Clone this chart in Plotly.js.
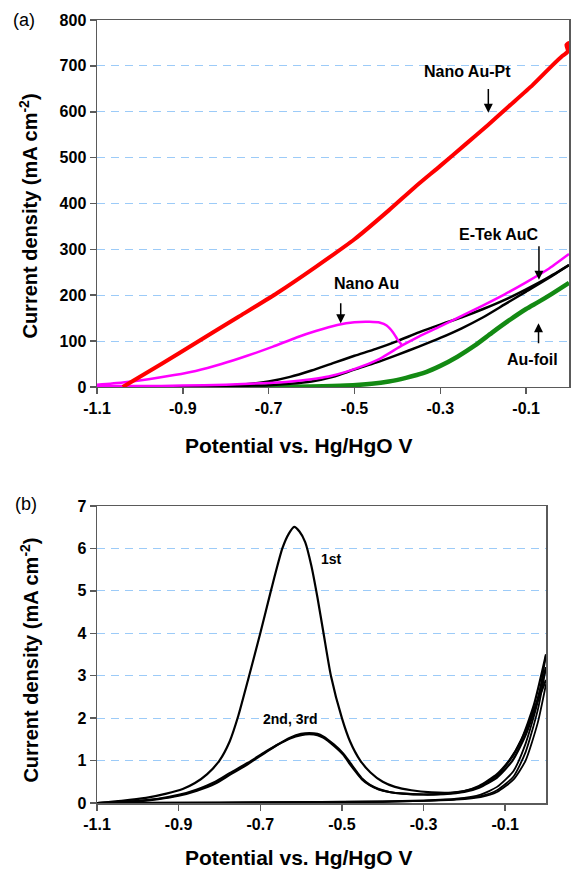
<!DOCTYPE html>
<html><head><meta charset="utf-8">
<script src="https://cdn.plot.ly/plotly-3.0.1.min.js"></script>
<style>html,body{margin:0;padding:0;background:#fff}</style>
</head><body><div id="chart" style="width:571px;height:869px"></div>
<script>
// ---------- Panel (a) ----------
const auPtX = [-1.04, -0.95, -0.87, -0.77, -0.68, -0.59, -0.5, -0.42, -0.36, -0.3, -0.24, -0.19, -0.14, -0.085, -0.04, -0.015, -0.004, 0.0, -0.006, 0.0];
const auPtY = [0, 50, 96, 153, 205, 262, 322, 385, 435, 482, 530, 570, 612, 658, 700, 722, 730, 750, 746, 728];

const nanoAuFwdX = [-1.1, -1.04, -0.98, -0.92, -0.87, -0.81, -0.75, -0.69, -0.635, -0.59, -0.54, -0.5, -0.465, -0.44, -0.425, -0.41, -0.4, -0.39];
const nanoAuFwdY = [5, 10, 17, 26, 35, 50, 68, 88, 108, 122, 135, 141, 142, 140, 134, 119, 104, 92];
const nanoAuRevX = [-1.1, -1.0, -0.9, -0.8, -0.72, -0.66, -0.6, -0.56, -0.52, -0.48, -0.44, -0.39, -0.35, -0.3, -0.25, -0.2, -0.15, -0.1, -0.05, 0];
const nanoAuRevY = [2, 2, 3, 5, 8, 11, 17, 23, 33, 46, 62, 90, 110, 132, 155, 178, 202, 228, 256, 290];

const etekX = [-1.0, -0.9, -0.8, -0.74, -0.7, -0.65, -0.6, -0.55, -0.5, -0.45, -0.4, -0.35, -0.3, -0.25, -0.2, -0.15, -0.1, -0.05, 0];
const etekUpY = [-2, 0, 3, 7, 12, 22, 36, 52, 68, 83, 100, 119, 136, 152, 170, 190, 213, 238, 266];
const etekLoY = [-3, -1, 1, 3, 4, 7, 12, 22, 38, 53, 70, 88, 107, 128, 152, 180, 208, 236, 266];

const foilX = [-0.8, -0.7, -0.6, -0.52, -0.46, -0.42, -0.38, -0.34, -0.3, -0.26, -0.22, -0.18, -0.14, -0.1, -0.07, -0.04, 0];
const foilY = [0, 0, 1, 3, 7, 12, 20, 30, 46, 66, 90, 118, 145, 170, 186, 203, 227];

// ---------- Panel (b) ----------
const c1FwdX = [-1.1, -1.04, -0.98, -0.93, -0.89, -0.86, -0.83, -0.8, -0.775, -0.754, -0.73, -0.7, -0.674, -0.646, -0.63, -0.617, -0.604, -0.59, -0.575, -0.56, -0.545, -0.527, -0.5, -0.48, -0.455, -0.43, -0.4, -0.37, -0.33, -0.28, -0.24, -0.2, -0.16, -0.12, -0.09, -0.06, -0.03, 0];
const c1FwdY = [0, 0.05, 0.12, 0.22, 0.33, 0.47, 0.68, 1.0, 1.45, 2.05, 2.9, 4.0, 5.0, 6.0, 6.35, 6.51, 6.4, 6.15, 5.6, 4.85, 4.0, 3.0, 2.0, 1.45, 1.0, 0.72, 0.5, 0.38, 0.3, 0.25, 0.24, 0.28, 0.4, 0.65, 1.0, 1.5, 2.3, 3.5];
const c2FwdX = [-1.1, -1.0, -0.95, -0.9, -0.855, -0.81, -0.774, -0.73, -0.692, -0.66, -0.627, -0.6, -0.58, -0.56, -0.546, -0.52, -0.497, -0.48, -0.464, -0.45, -0.432, -0.41, -0.384, -0.35, -0.3, -0.25, -0.2, -0.164, -0.12, -0.082, -0.05, -0.025, 0];
const c2FwdY = [0, 0.05, 0.1, 0.19, 0.32, 0.5, 0.71, 0.95, 1.18, 1.36, 1.52, 1.6, 1.62, 1.6, 1.54, 1.35, 1.14, 0.91, 0.71, 0.55, 0.42, 0.32, 0.26, 0.22, 0.2, 0.21, 0.26, 0.36, 0.6, 1.0, 1.6, 2.3, 3.2];
const c3FwdY = [0, 0.04, 0.09, 0.17, 0.29, 0.46, 0.67, 0.92, 1.16, 1.36, 1.54, 1.63, 1.65, 1.63, 1.57, 1.38, 1.17, 0.95, 0.74, 0.57, 0.43, 0.33, 0.26, 0.22, 0.2, 0.22, 0.28, 0.4, 0.68, 1.1, 1.7, 2.3, 2.9];
const revX = [0, -0.02, -0.05, -0.08, -0.12, -0.16, -0.22, -0.3, -0.4, -0.6, -0.8, -1.1];
const rev1Y = [3.5, 2.4, 1.4, 0.75, 0.38, 0.2, 0.1, 0.06, 0.04, 0.02, 0.01, 0];
const rev2Y = [3.2, 2.2, 1.2, 0.62, 0.3, 0.16, 0.09, 0.05, 0.03, 0.02, 0.01, 0];
const rev3Y = [2.8, 1.9, 1.0, 0.55, 0.26, 0.14, 0.08, 0.05, 0.03, 0.02, 0.01, 0];

// ---------- Axes ticks ----------
const xTickVals = [-1.1, -0.9, -0.7, -0.5, -0.3, -0.1];
const xTickText = ['-1.1', '-0.9', '-0.7', '-0.5', '-0.3', '-0.1'];
const yTopVals = [0, 100, 200, 300, 400, 500, 600, 700, 800];
const yBotVals = [0, 1, 2, 3, 4, 5, 6, 7];

const FONT = 'Liberation Sans, Arial, Helvetica, sans-serif';
const red = '#ff0000', mag = '#ff00ff', grn = '#138a13', blk = '#000000';

function ln(x, y, color, w, xa, ya) {
  return {x: x, y: y, mode: 'lines', type: 'scatter', line: {color: color, width: w, shape: 'spline', smoothing: 0.6},
          xaxis: xa, yaxis: ya, showlegend: false, hoverinfo: 'skip'};
}

const traces = [
  ln(foilX, foilY, grn, 4.5, 'x', 'y'),
  ln(etekX, etekLoY, blk, 2.5, 'x', 'y'),
  ln(etekX, etekUpY, blk, 2.5, 'x', 'y'),
  ln(nanoAuRevX, nanoAuRevY, mag, 2.5, 'x', 'y'),
  ln(nanoAuFwdX, nanoAuFwdY, mag, 2.5, 'x', 'y'),
  ln(auPtX, auPtY, red, 4, 'x', 'y'),
  ln(c1FwdX, c1FwdY, blk, 2.2, 'x2', 'y2'),
  ln(c2FwdX, c2FwdY, blk, 2.2, 'x2', 'y2'),
  ln(c2FwdX, c3FwdY, blk, 2.2, 'x2', 'y2'),
  ln(revX, rev1Y, blk, 1.8, 'x2', 'y2'),
  ln(revX, rev2Y, blk, 1.8, 'x2', 'y2'),
  ln(revX, rev3Y, blk, 1.8, 'x2', 'y2')
];

const axCommon = {
  showline: true, linecolor: '#5a5a5a', linewidth: 1.5, mirror: true,
  ticks: 'outside', ticklen: 6, tickwidth: 1.5, tickcolor: '#5a5a5a',
  zeroline: false, tickfont: {family: FONT, size: 16, color: '#000', weight: 'bold'}
};
const gridY = {showgrid: true, gridcolor: '#9ccbf8', gridwidth: 1, griddash: '8px,6px'};
const titleFont = {family: FONT, size: 21, color: '#000', weight: 'bold'};
const yTitleFont = {family: FONT, size: 20, color: '#000', weight: 'bold'};
const yTitle = 'Current density (mA cm<sup>-2</sup>)';
const xTitle = 'Potential vs. Hg/HgO V';

const annFont = {family: FONT, size: 16, color: '#000', weight: 'bold'};
const annFontB = {family: FONT, size: 14, color: '#000', weight: 'bold'};
function txt(x, y, t, f, xr, yr, ang) {
  return {x: x, y: y, xref: xr || 'x', yref: yr || 'y', text: t, showarrow: false, font: f,
          xanchor: 'center', yanchor: 'middle', textangle: ang || 0};
}
function arr(x, ytip, ytail) {
  return {x: x, y: ytip, ax: x, ay: ytail, xref: 'x', yref: 'y', axref: 'x', ayref: 'y', text: '', showarrow: true,
          arrowhead: 2, arrowsize: 1.2, arrowwidth: 1.5, arrowcolor: '#000'};
}

const layout = {
  width: 571, height: 869,
  margin: {l: 97, r: 2, t: 20, b: 66},
  paper_bgcolor: '#fff', plot_bgcolor: '#fff',
  showlegend: false,
  xaxis: Object.assign({}, axCommon, {domain: [0, 1], range: [-1.1, 0], anchor: 'y', tickmode: 'array', tickvals: xTickVals, ticktext: xTickText, showgrid: false}),
  yaxis: Object.assign({}, axCommon, gridY, {domain: [0.5313, 1], range: [0, 800], anchor: 'x', tickmode: 'array', tickvals: yTopVals}),
  xaxis2: Object.assign({}, axCommon, {domain: [0, 0.9513], range: [-1.1, 0], anchor: 'y2', tickmode: 'array', tickvals: xTickVals, ticktext: xTickText, showgrid: false}),
  yaxis2: Object.assign({}, axCommon, gridY, {domain: [0, 0.3793], range: [0, 7], anchor: 'x2', tickmode: 'array', tickvals: yBotVals}),
  annotations: [
    txt(-0.2375, 688, 'Nano Au-Pt', annFont),
    arr(-0.188, 598, 653),
    txt(-0.163, 332, 'E-Tek AuC', annFont),
    arr(-0.07, 234, 310),
    txt(-0.473, 225, 'Nano Au', annFont),
    arr(-0.532, 139, 186),
    txt(-0.085, 59, 'Au-foil', annFont),
    arr(-0.071, 139, 92),
    txt(-0.525, 5.75, '1st', annFontB, 'x2', 'y2'),
    txt(-0.628, 1.99, '2nd, 3rd', annFontB, 'x2', 'y2'),
    txt(0.428, 0.456, xTitle, titleFont, 'paper', 'paper'),
    txt(0.428, -0.069, xTitle, titleFont, 'paper', 'paper'),
    txt(-0.145, 0.7497, yTitle, yTitleFont, 'paper', 'paper', -90),
    txt(-0.145, 0.1826, yTitle, yTitleFont, 'paper', 'paper', -90),
    txt(-0.1547, 1.0, '(a)', {family: FONT, size: 18, color: '#000'}, 'paper', 'paper'),
    txt(-0.150, 0.3819, '(b)', {family: FONT, size: 18, color: '#000'}, 'paper', 'paper')
  ]
};

Plotly.newPlot('chart', traces, layout, {staticPlot: true, displayModeBar: false});
</script></body></html>
